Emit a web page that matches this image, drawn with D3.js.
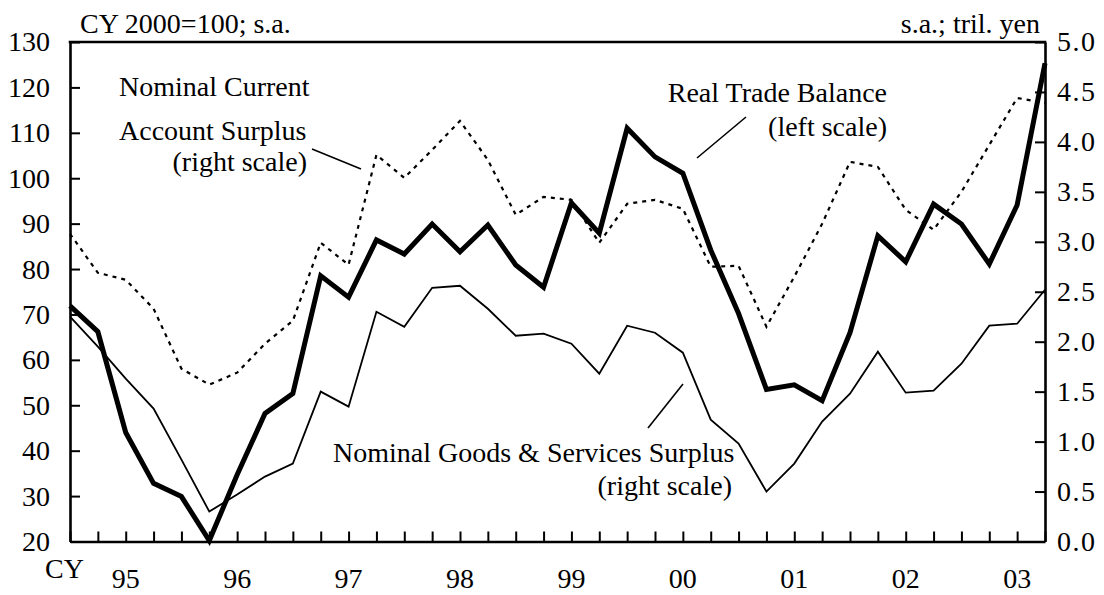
<!DOCTYPE html>
<html>
<head>
<meta charset="utf-8">
<script src="https://cdn.jsdelivr.net/npm/d3@7"></script>
<style>
  html, body { margin: 0; padding: 0; background: #fff; }
  svg text { font-family: "Liberation Serif", "Times New Roman", Times, serif; font-size: 28px; fill: #000; }
</style>
</head>
<body>
<svg id="chart" width="1104" height="595"></svg>
<script>
// ---- data (quarterly, CY1995 Q1 .. CY2003 Q4) ----
const quarters = [];
for (let y = 1995; y <= 2003; y++) for (let q = 1; q <= 4; q++) quarters.push(y + "Q" + q);

const realTradeBalance = [71.9, 66.2, 44.0, 32.8, 29.9, 20.2, 34.7, 48.2, 52.6, 78.5, 73.8, 86.4,
  83.3, 89.9, 83.8, 89.7, 80.9, 76.0, 94.6, 87.9, 111.0, 104.7, 101.1, 84.2,
  70.2, 53.5, 54.5, 51.0, 66.0, 87.3, 81.6, 94.3, 89.9, 81.1, 94.1, 125.3];

const goodsServicesSurplus = [2.25, 1.95, 1.63, 1.33, 0.82, 0.30, 0.47, 0.65, 0.78, 1.50, 1.35, 2.30,
  2.15, 2.54, 2.56, 2.33, 2.06, 2.08, 1.98, 1.68, 2.16, 2.09, 1.89, 1.22,
  0.98, 0.50, 0.78, 1.20, 1.48, 1.90, 1.49, 1.51, 1.78, 2.16, 2.18, 2.52];

const currentAccountSurplus = [3.08, 2.69, 2.62, 2.33, 1.73, 1.57, 1.69, 1.98, 2.21, 2.99, 2.77, 3.87,
  3.64, 3.92, 4.21, 3.82, 3.27, 3.45, 3.42, 2.99, 3.38, 3.42, 3.33, 2.75,
  2.76, 2.15, 2.65, 3.18, 3.80, 3.75, 3.32, 3.12, 3.50, 3.97, 4.44, 4.39];

const yearLabels = ["95", "96", "97", "98", "99", "00", "01", "02", "03"];
const leftTicks = [20, 30, 40, 50, 60, 70, 80, 90, 100, 110, 120, 130];
const rightTicks = [0.0, 0.5, 1.0, 1.5, 2.0, 2.5, 3.0, 3.5, 4.0, 4.5, 5.0];

// ---- layout ----
const L = 70, R = 1045, T = 42, B = 541.5;
const svg = d3.select("#chart");

const x = d3.scaleLinear().domain([0, quarters.length - 1]).range([L, R]);
const yL = d3.scaleLinear().domain([20, 130]).range([B, T]);
const yR = d3.scaleLinear().domain([0, 5]).range([B, T]);

// ---- series ----
const lineL = d3.line().x((d, i) => x(i)).y(d => yL(d));
const lineR = d3.line().x((d, i) => x(i)).y(d => yR(d));

svg.append("path").datum(currentAccountSurplus)
  .attr("d", lineR).attr("fill", "none").attr("stroke", "#000")
  .attr("stroke-width", 2.2).attr("stroke-dasharray", "4,5");

svg.append("path").datum(goodsServicesSurplus)
  .attr("d", lineR).attr("fill", "none").attr("stroke", "#000")
  .attr("stroke-width", 1.8).attr("stroke-linejoin", "miter");

svg.append("path").datum(realTradeBalance)
  .attr("d", lineL).attr("fill", "none").attr("stroke", "#000")
  .attr("stroke-width", 5).attr("stroke-linejoin", "miter");

// ---- axes ----
function styleAxis(g) {
  g.select(".domain").attr("stroke", "#000").attr("stroke-width", 2.6);
  g.selectAll(".tick line").attr("stroke", "#000").attr("stroke-width", 2);
  g.selectAll("text").attr("font-family", null).attr("font-size", null);
}

svg.append("g").attr("transform", `translate(${L},0)`)
  .call(d3.axisLeft(yL).tickValues(leftTicks).tickSize(-10).tickSizeOuter(0).tickPadding(20).tickFormat(d3.format("d")))
  .call(styleAxis);

svg.append("g").attr("transform", `translate(${R},0)`)
  .call(d3.axisRight(yR).tickValues(rightTicks).tickSize(-10).tickSizeOuter(0).tickPadding(12).tickFormat(d3.format(".1f")))
  .call(styleAxis)
  .selectAll("text").attr("letter-spacing", "1.5px");

svg.append("g").attr("transform", `translate(0,${B})`)
  .call(d3.axisBottom(x).tickValues(d3.range(quarters.length)).tickSize(-10).tickSizeOuter(0).tickFormat(""))
  .call(styleAxis);

// top border
svg.append("line").attr("x1", L - 1.3).attr("x2", R + 1.3).attr("y1", T).attr("y2", T)
  .attr("stroke", "#000").attr("stroke-width", 2.6);

// year labels
svg.selectAll(".yr").data(yearLabels).enter().append("text")
  .attr("x", (d, i) => x(4 * i + 2)).attr("y", 588)
  .attr("text-anchor", "middle").text(d => d);

svg.append("text").attr("x", 45).attr("y", 578).text("CY");

// unit labels
svg.append("text").attr("x", 80).attr("y", 33).text("CY 2000=100; s.a.");
svg.append("text").attr("x", 1040).attr("y", 33).attr("text-anchor", "end").text("s.a.; tril. yen");

// annotations
function label(lines) {
  lines.forEach(l => svg.append("text").attr("x", l[0]).attr("y", l[1])
    .attr("text-anchor", l[3] || "start").text(l[2]));
}
label([
  [119, 96, "Nominal Current"],
  [119, 140, "Account Surplus"],
  [307, 171, "(right scale)", "end"],
  [887, 102, "Real Trade Balance", "end"],
  [887, 136, "(left scale)", "end"],
  [333, 462, "Nominal Goods & Services Surplus"],
  [732, 495, "(right scale)", "end"]
]);

const leaders = [
  [312, 149, 361, 169],
  [746, 117, 697, 158],
  [683, 384, 648, 428]
];
svg.selectAll(".leader").data(leaders).enter().append("line")
  .attr("x1", d => d[0]).attr("y1", d => d[1]).attr("x2", d => d[2]).attr("y2", d => d[3])
  .attr("stroke", "#000").attr("stroke-width", 1.6);
</script>
</body>
</html>
